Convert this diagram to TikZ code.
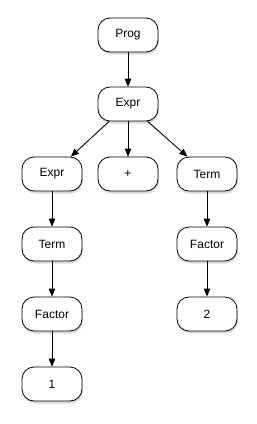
\documentclass[tikz,border=0pt]{standalone}
\usepackage{fontspec}
\setmainfont{Liberation Sans}
\usetikzlibrary{arrows.meta,shadows}

\begin{document}
\begin{tikzpicture}[x=1pt,y=-1pt,
  tnode/.style={draw=black,line width=0.8pt,fill=white,rounded corners=12pt,
    minimum width=60pt,minimum height=34pt,font=\fontsize{12}{14}\selectfont,
    drop shadow={opacity=0.3,shadow xshift=0.8pt,shadow yshift=-2.5pt}},
  tedge/.style={line width=0.9pt,-{Triangle[length=8pt,width=6.5pt]}}]
\useasboundingbox (0,0) rectangle (257,424);

\node[tnode] (prog) at (128,35) {Prog};
\node[tnode] (expr) at (128,104) {Expr};

\node[tnode] (exprL) at (52,174) {Expr};
\node[tnode] (plus) at (128,174) {+};
\node[tnode] (termR) at (207,174) {Term};

\node[tnode] (termL) at (52,244) {Term};
\node[tnode] (factorL) at (52,314) {Factor};
\node[tnode] (one) at (52,384) {1};

\node[tnode] (factorR) at (207,244) {Factor};
\node[tnode] (two) at (207,314) {2};

\draw[tedge] (prog) -- (expr);
\draw[tedge] (expr) -- (exprL);
\draw[tedge] (expr) -- (plus);
\draw[tedge] (expr) -- (termR);
\draw[tedge] (exprL) -- (termL);
\draw[tedge] (termL) -- (factorL);
\draw[tedge] (factorL) -- (one);
\draw[tedge] (termR) -- (factorR);
\draw[tedge] (factorR) -- (two);

\end{tikzpicture}
\end{document}
